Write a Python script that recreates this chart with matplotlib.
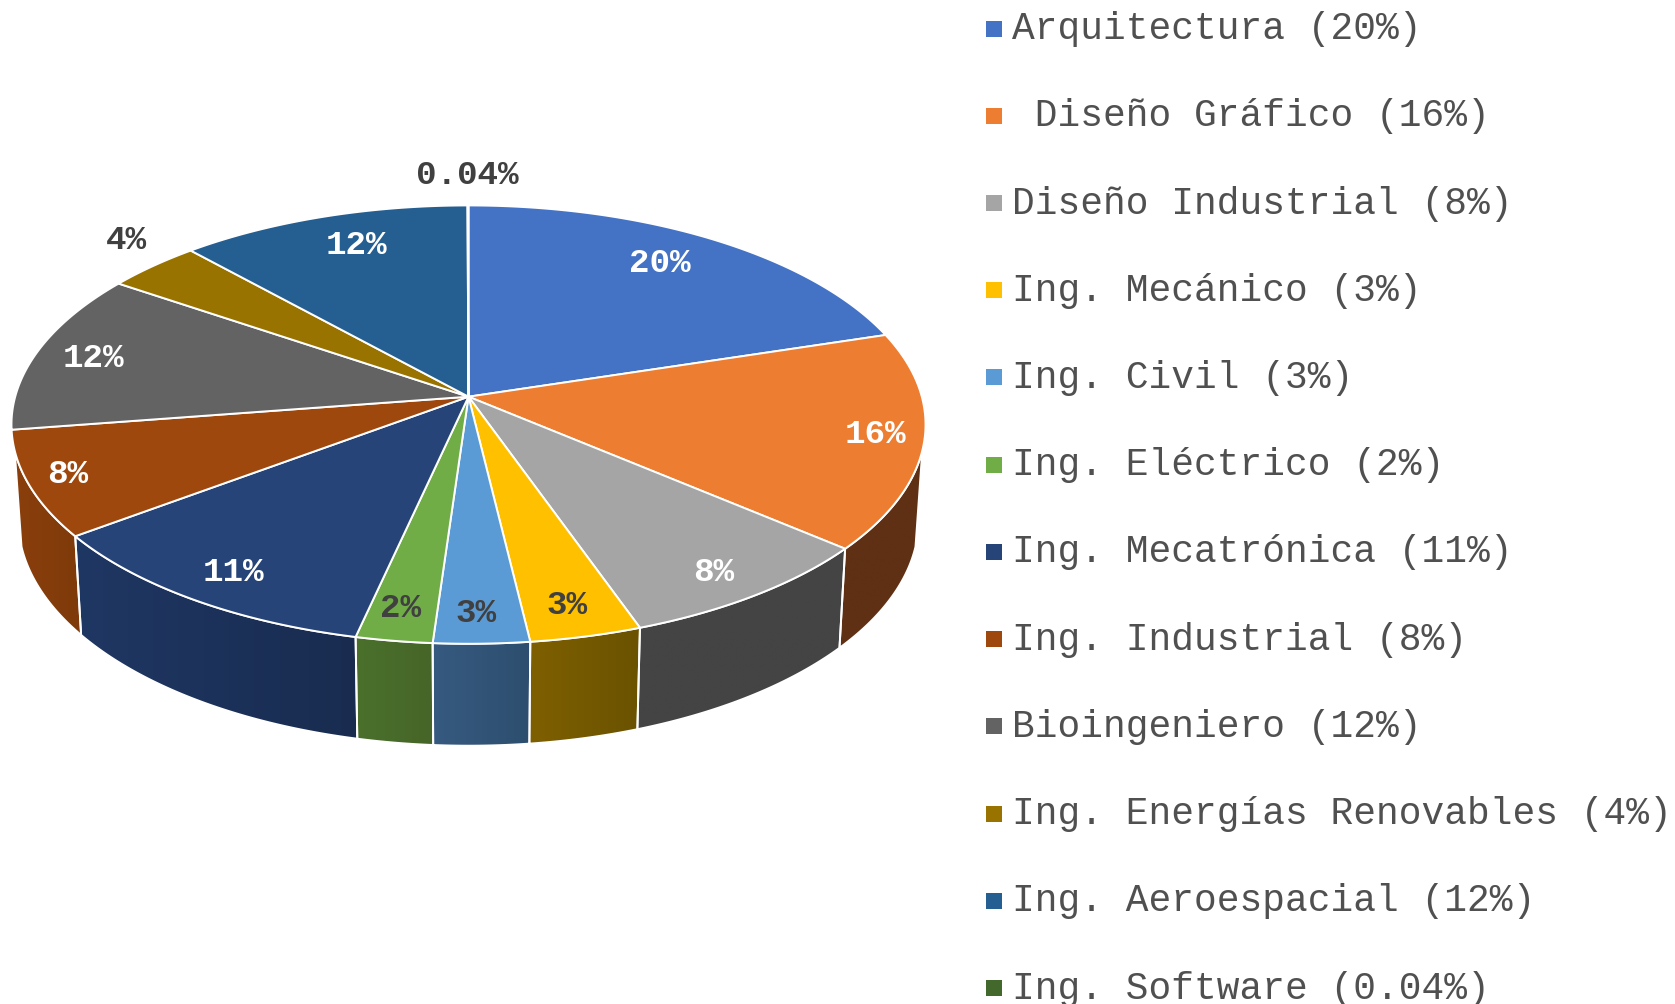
import numpy as np
import matplotlib
matplotlib.use('Agg')
import matplotlib.pyplot as plt
from matplotlib.colors import to_rgb
from matplotlib.patches import Polygon

plt.rcParams['font.family'] = ['Liberation Mono', 'DejaVu Sans Mono']

names = ['Arquitectura (20%)', ' Diseño Gráfico (16%)', 'Diseño Industrial (8%)',
         'Ing. Mecánico (3%)', 'Ing. Civil (3%)', 'Ing. Eléctrico (2%)',
         'Ing. Mecatrónica (11%)', 'Ing. Industrial (8%)', 'Bioingeniero (12%)',
         'Ing. Energías Renovables (4%)', 'Ing. Aeroespacial (12%)', 'Ing. Software (0.04%)']
# shares as measured from the slice boundaries, the labels are rounded
shares = [20.2, 16.0, 8.4, 3.5, 3.0, 2.4, 11.3, 7.8, 11.9, 3.8, 11.66, 0.04]
labels = ['20%', '16%', '8%', '3%', '3%', '2%', '11%', '8%', '12%', '4%', '12%', '0.04%']

colors = ['#4472C4', '#ED7D31', '#A5A5A5', '#FFC000', '#5B9BD5', '#70AD47',
          '#264478', '#9E480E', '#636363', '#997300', '#255E91', '#43682B']
wall_left = ['#2a4476', '#5f3014', '#444444', '#7f6000', '#365a80', '#4a702c',
             '#1f3763', '#8a3f0c', '#444444', '#5c4500', '#16385a', '#2a3f1a']
wall_right = ['#2a4476', '#5f3014', '#444444', '#6a5200', '#2d4e6e', '#466528',
              '#192c50', '#7e3a0a', '#444444', '#5c4500', '#16385a', '#2a3f1a']
label_colors = ['white', 'white', 'white', '#404040', '#404040', '#404040',
                'white', 'white', 'white', '#404040', 'white', '#404040']
label_xy = [(660, 263), (875, 434), (714, 572), (567, 605), (476, 613), (401, 608),
            (233, 572), (68, 474), (93, 358), (126, 240), (356, 245), (467, 175)]

# pie geometry in pixels: a circle seen in perspective
cx, cy = 468.5, 397
A, B, c = 453.3, 215.5, 0.1273
wall_from, wall_to = 104, 256


def top_rim(theta):
    t = np.radians(theta)
    d = 1 + c * np.cos(t)
    return cx + A * np.sin(t) / d, cy - B * np.cos(t) / d


def bottom_rim(theta):
    x, y = top_rim(theta)
    return cx + (x - cx) * 0.985, cy + (y - cy) * 1.03 + 94.5


fig = plt.figure(figsize=(16.75, 10.045), dpi=100)
ax = fig.add_axes([0, 0, 1, 1])

edges = np.cumsum([0] + shares) / sum(shares) * 360

# side walls first, the top goes over them
for i in range(len(shares)):
    a, b = max(edges[i], wall_from), min(edges[i + 1], wall_to)
    if b <= a:
        continue
    th = np.linspace(a, b, 80)
    x1, y1 = top_rim(th)
    x2, y2 = bottom_rim(th[::-1])
    pts = np.column_stack([np.r_[x1, x2], np.r_[y1, y2]])
    grad = np.linspace(to_rgb(wall_left[i]), to_rgb(wall_right[i]), 64).reshape(1, 64, 3)
    im = ax.imshow(grad, extent=(pts[:, 0].min(), pts[:, 0].max(), pts[:, 1].max(), pts[:, 1].min()),
                   aspect='auto', zorder=1, interpolation='bilinear')
    poly = Polygon(pts, closed=True, fc='none', ec='none', transform=ax.transData)
    ax.add_patch(poly)
    im.set_clip_path(poly)
    ax.add_patch(Polygon(pts, closed=True, fc='none', ec='white', lw=1.4, zorder=2))

for i in range(len(shares)):
    th = np.linspace(edges[i], edges[i + 1], 120)
    x, y = top_rim(th)
    pts = np.column_stack([np.r_[cx, x], np.r_[cy, y]])
    ax.add_patch(Polygon(pts, closed=True, fc=colors[i], ec='white', lw=1.4, zorder=3, joinstyle='round'))

for i in range(len(labels)):
    ax.text(label_xy[i][0], label_xy[i][1], labels[i], color=label_colors[i], fontsize=24.7,
            fontweight='bold', ha='center', va='center', zorder=5)

# legend
for i in range(len(names)):
    y = 29 + 87.2 * i
    ax.scatter([993.5], [y], marker='s', s=117, color=colors[i], linewidths=0, zorder=5)
    ax.text(1012, y + 10, names[i], fontsize=27.3, color='#505050', ha='left', va='baseline', zorder=5)

ax.set_xlim(0, 1675)
ax.set_ylim(1004, 0)
ax.axis('off')
fig.savefig('out.png', dpi=100)
